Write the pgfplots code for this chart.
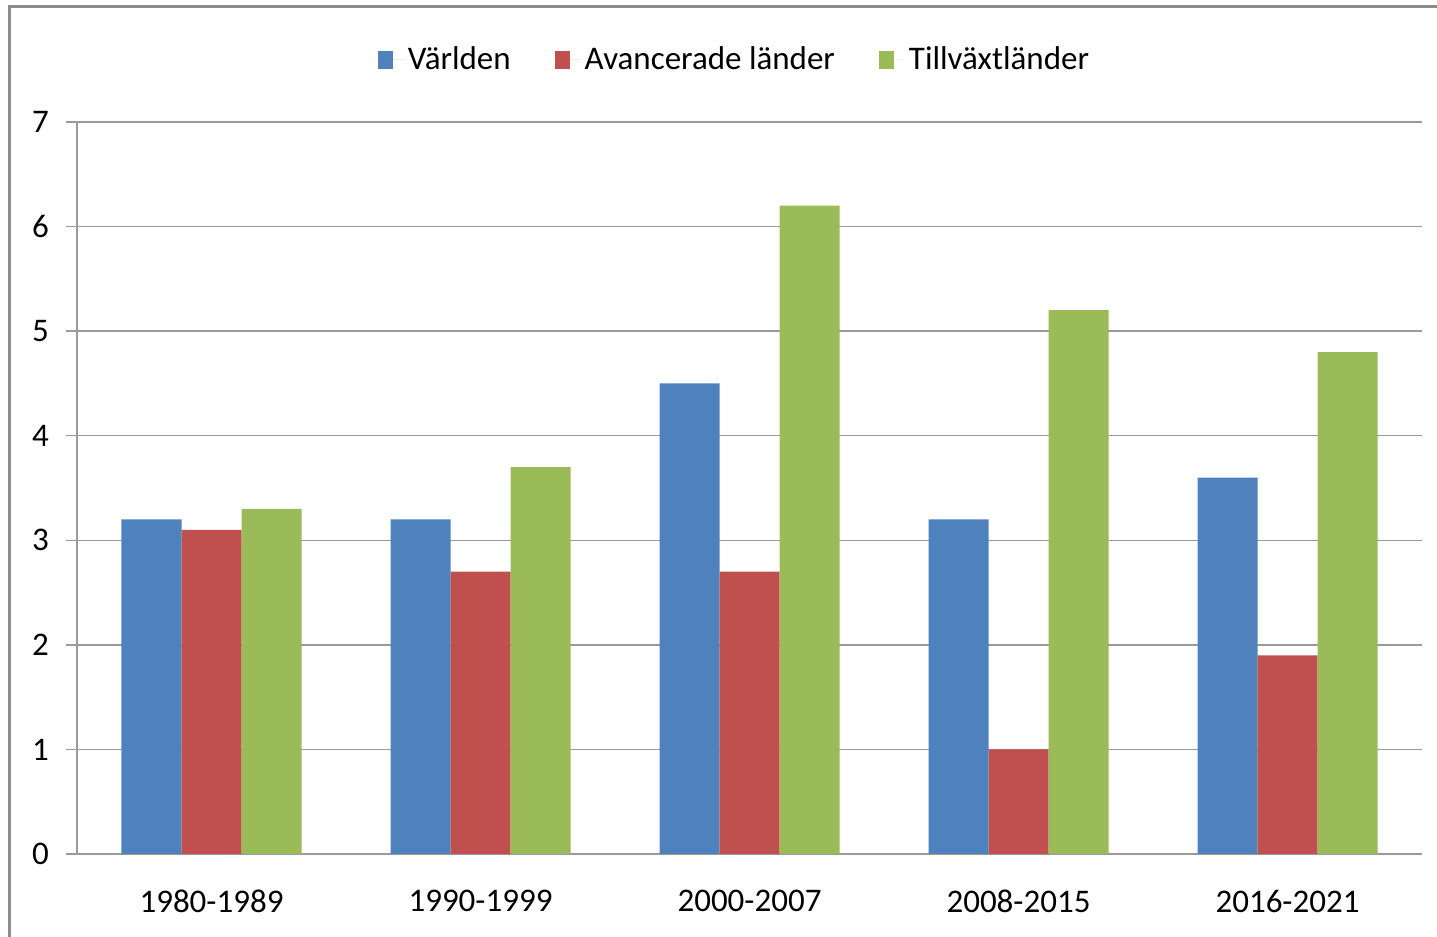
\documentclass[border=0pt]{standalone}
\usepackage{pgfplots}
\pgfplotsset{compat=1.18}
\usepackage{fontspec}
\setmainfont{Carlito}
\definecolor{cblue}{HTML}{4F81BD}
\definecolor{cred}{HTML}{C0504D}
\definecolor{cgreen}{HTML}{9BBB59}
\definecolor{gridc}{HTML}{9A9A9A}
\definecolor{framec}{HTML}{8C8C8C}
\begin{document}
\begin{tikzpicture}
\begin{axis}[name=ax, scale only axis, width=672.5pt, height=366pt,
  xmin=-0.5, xmax=4.5, ymin=0, ymax=7,
  axis x line*=bottom, axis y line*=left,
  axis line style={gridc, line width=0.75pt},
  ytick={0,1,...,7}, ymajorgrids, grid style={gridc, line width=0.75pt},
  tick align=outside, major tick length=5.5pt,
  tick style={gridc, line width=0.75pt},
  xtick={0,1,2,3,4},
  xticklabels={1980-1989,1990-1999,2000-2007,2008-2015,2016-2021},
  x tick style={draw=none},
  extra x ticks={-0.5,0.5,1.5,2.5,3.5,4.5}, extra x tick labels={},
  extra x tick style={major tick length=6pt, tick style={draw=gridc, line width=0.75pt}, grid=none},
  ticklabel style={font=\fontsize{16.5}{19}\selectfont, text=black},
  /pgf/number format/assume math mode=true,
  yticklabel style={xshift=-5pt},
  xticklabel style={yshift=-9pt},
  legend columns=3,
  legend style={at={(0.4896,1.0850)}, anchor=center, draw=none, fill=none,
    font=\fontsize{16.5}{19}\selectfont,
    /tikz/every even column/.append style={column sep=20pt}},
  legend image code/.code={\fill[#1] (0pt,-4.5pt) rectangle (7.5pt,4.5pt); \path (0pt,0pt) -- (13pt,0pt);},
]
\addplot[ybar, bar width=30pt, bar shift=-30pt, fill=cblue, draw=none] coordinates {(0,3.2) (1,3.2) (2,4.5) (3,3.2) (4,3.6)};
\addplot[ybar, bar width=30pt, bar shift=0pt, fill=cred, draw=none] coordinates {(0,3.1) (1,2.7) (2,2.7) (3,1.0) (4,1.9)};
\addplot[ybar, bar width=30pt, bar shift=30pt, fill=cgreen, draw=none] coordinates {(0,3.3) (1,3.7) (2,6.2) (3,5.2) (4,4.8)};
\legend{Världen, Avancerade länder, Tillväxtländer}
\end{axis}
\draw[framec, line width=1.5pt] ([xshift=-33.5pt,yshift=-60pt]ax.south west) -- ([xshift=-33.5pt,yshift=57.5pt]ax.north west) -- ([xshift=20pt,yshift=57.5pt]ax.north east);
\pgfresetboundingbox
\path ([xshift=-38.5pt,yshift=-41.5pt]ax.south west) rectangle ([xshift=7.5pt,yshift=61pt]ax.north east);
\end{tikzpicture}
\end{document}
